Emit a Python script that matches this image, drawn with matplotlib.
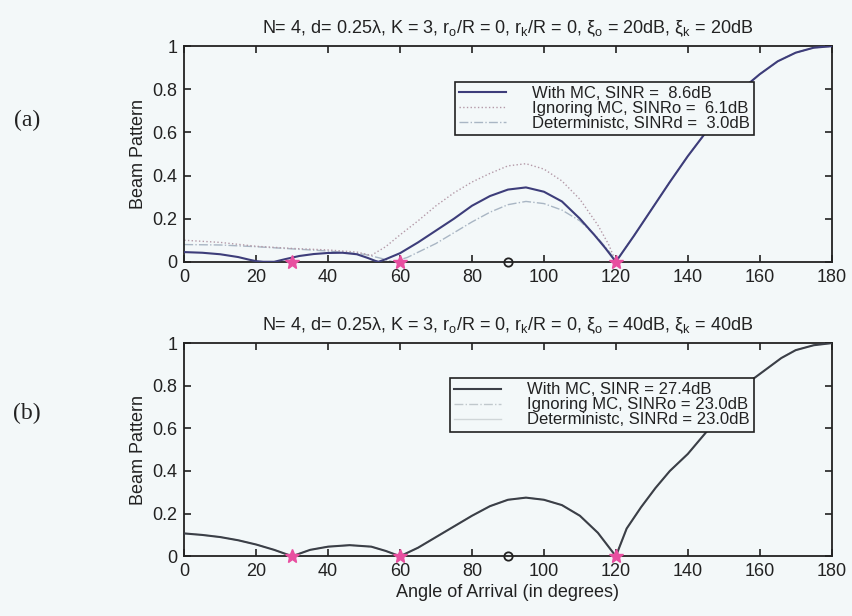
import numpy as np
import matplotlib
matplotlib.use("Agg")
import matplotlib.pyplot as plt

plt.rcParams['font.family'] = ['Liberation Sans', 'DejaVu Sans']
plt.rcParams['mathtext.fontset'] = 'custom'
plt.rcParams['mathtext.rm'] = 'Liberation Sans'
plt.rcParams['mathtext.it'] = 'Liberation Sans:italic'

# ---- data ----
# (a) xi = 20 dB
a_mc_deg = [0, 5, 10, 15, 18, 20, 22, 25, 28, 32, 36, 40, 44, 48, 51, 53, 54, 56, 60, 65, 70, 75, 80,
            85, 90, 95, 100, 105, 110, 114, 117, 120, 125, 130, 135, 140, 145, 150, 155, 160, 165,
            170, 175, 180]
a_mc = [0.045, 0.042, 0.035, 0.022, 0.010, 0.003, 0.0, 0.0, 0.012, 0.027, 0.036, 0.041, 0.042, 0.035,
        0.018, 0.005, 0.0, 0.012, 0.040, 0.090, 0.145, 0.200, 0.260, 0.305, 0.335, 0.345, 0.325, 0.280,
        0.200, 0.125, 0.065, 0.0, 0.120, 0.245, 0.370, 0.490, 0.600, 0.710, 0.800, 0.870, 0.930,
        0.970, 0.993, 1.0]

a_ign_deg = [0, 10, 20, 30, 40, 48, 52, 56, 60, 65, 70, 75, 80, 85, 90, 95, 100, 105, 110, 115, 118,
             120, 125, 130, 135, 140, 145, 150, 155, 160, 165, 170, 175, 180]
a_ign = [0.100, 0.090, 0.072, 0.062, 0.055, 0.045, 0.030, 0.070, 0.125, 0.190, 0.260, 0.320, 0.370,
         0.410, 0.445, 0.455, 0.430, 0.375, 0.290, 0.170, 0.080, 0.0, 0.120, 0.245, 0.370, 0.490,
         0.600, 0.710, 0.800, 0.870, 0.930, 0.970, 0.993, 1.0]

a_det_deg = [0, 10, 20, 30, 40, 50, 55, 58, 62, 70, 75, 80, 85, 90, 95, 100, 105, 110, 115, 118, 120,
             125, 130, 135, 140, 145, 150, 155, 160, 165, 170, 175, 180]
a_det = [0.080, 0.078, 0.070, 0.060, 0.050, 0.035, 0.015, 0.0, 0.020, 0.085, 0.135, 0.185, 0.230,
         0.265, 0.280, 0.270, 0.240, 0.190, 0.110, 0.050, 0.0, 0.120, 0.245, 0.370, 0.490, 0.600,
         0.710, 0.800, 0.870, 0.930, 0.970, 0.993, 1.0]

# (b) xi = 40 dB  (the three curves lie on top of each other)
b_deg = [0, 5, 10, 15, 20, 25, 30, 35, 40, 46, 52, 56, 60, 65, 70, 75, 80, 85, 90, 95, 100, 105, 110,
         115, 120, 123, 127, 131, 135, 140, 145, 150, 155, 158, 162, 166, 170, 175, 180]
b_mc = [0.107, 0.100, 0.090, 0.075, 0.055, 0.030, 0.0, 0.030, 0.045, 0.052, 0.045, 0.025, 0.0, 0.040,
        0.090, 0.140, 0.190, 0.235, 0.265, 0.275, 0.265, 0.240, 0.190, 0.110, 0.0, 0.130, 0.230,
        0.320, 0.400, 0.480, 0.580, 0.670, 0.770, 0.830, 0.880, 0.930, 0.967, 0.990, 1.0]
b_ign = b_mc
b_det = b_mc

interf_deg = [30, 60, 120]
desired_deg = [90]

labels_a = ['With MC, SINR =  8.6dB', 'Ignoring MC, SINRo =  6.1dB', 'Deterministc, SINRd =  3.0dB']
labels_b = ['With MC, SINR = 27.4dB', 'Ignoring MC, SINRo = 23.0dB', 'Deterministc, SINRd = 23.0dB']

titles = [r'N= 4, d= 0.25λ, K = 3, r$_\mathrm{o}$/R = 0, r$_\mathrm{k}$/R = 0, '
          r'ξ$_\mathrm{o}$ = 20dB, ξ$_\mathrm{k}$ = 20dB',
          r'N= 4, d= 0.25λ, K = 3, r$_\mathrm{o}$/R = 0, r$_\mathrm{k}$/R = 0, '
          r'ξ$_\mathrm{o}$ = 40dB, ξ$_\mathrm{k}$ = 40dB']

bg = '#f3f8f9'
ink = '#222222'
fig = plt.figure(figsize=(8.53, 6.16), dpi=100, facecolor=bg)
ax1 = fig.add_axes([0.216, 0.575, 0.759, 0.350], facecolor=bg)
ax2 = fig.add_axes([0.216, 0.097, 0.759, 0.346], facecolor=bg)


def draw(ax, mc, ign, det, xm, xi, xd, labels, title, mc_col, ign_style, det_style, legbox):
    ax.plot(xd, det, det_style[0], color=det_style[1], lw=1.0, label=labels[2], zorder=2)
    ax.plot(xi, ign, ign_style[0], color=ign_style[1], lw=1.0, label=labels[1], zorder=2)
    ax.plot(xm, mc, '-', color=mc_col, lw=1.5, label=labels[0], zorder=3)
    ax.plot(interf_deg, [0] * len(interf_deg), '*', color='#e84fa0', ms=10, zorder=4, clip_on=False)
    ax.plot(desired_deg, [0], 'o', mfc='none', mec=ink, mew=1.3, ms=6, zorder=4, clip_on=False)
    ax.set_xlim(0, 180)
    ax.set_ylim(0, 1)
    ax.set_xticks(np.arange(0, 181, 20))
    ax.set_yticks([0, 0.2, 0.4, 0.6, 0.8, 1])
    ax.set_yticklabels(['0', '0.2', '0.4', '0.6', '0.8', '1'])
    ax.tick_params(direction='in', top=True, right=True, labelsize=13, length=5, width=1.2,
                   colors=ink, pad=5)
    for s in ax.spines.values():
        s.set_linewidth(1.3)
        s.set_color(ink)
    ax.set_ylabel('Beam Pattern', fontsize=13, color=ink, labelpad=4)
    ax.set_title(title, fontsize=13, color=ink, pad=9)
    h, l = ax.get_legend_handles_labels()
    order = [2, 1, 0]
    leg = ax.legend([h[i] for i in order], [l[i] for i in order], loc='upper left',
                    bbox_to_anchor=legbox, fontsize=12, frameon=True, fancybox=False,
                    borderpad=0.25, labelspacing=0.0, handlelength=2.8, handletextpad=1.6,
                    borderaxespad=0)
    leg.get_frame().set_edgecolor(ink)
    leg.get_frame().set_linewidth(1.2)
    leg.get_frame().set_facecolor(bg)
    leg.get_frame().set_alpha(1)
    for t in leg.get_texts():
        t.set_color(ink)


draw(ax1, a_mc, a_ign, a_det, a_mc_deg, a_ign_deg, a_det_deg, labels_a, titles[0], '#3d3d7a',
     (':', '#b49aa8'), ('-.', '#a9b6c4'), (0.418, 0.835))
draw(ax2, b_mc, b_ign, b_det, b_deg, b_deg, b_deg, labels_b, titles[1], '#3b3f47',
     ('-.', '#c0c8cc'), ('-', '#d0d6d8'), (0.41, 0.835))
ax2.set_xlabel('Angle of Arrival (in degrees)', fontsize=13, color=ink, labelpad=3)

fig.text(0.032, 0.805, '(a)', fontsize=17, family=['Liberation Serif'], ha='center', va='center',
         color=ink)
fig.text(0.032, 0.328, '(b)', fontsize=17, family=['Liberation Serif'], ha='center', va='center',
         color=ink)

fig.savefig('out.png', dpi=100, facecolor=bg)
